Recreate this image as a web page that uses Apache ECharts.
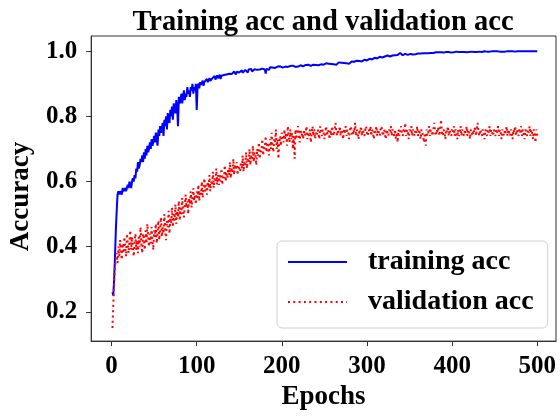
<!DOCTYPE html>
<html>
<head>
<meta charset="utf-8">
<script src="https://cdn.jsdelivr.net/npm/echarts@6/dist/echarts.min.js"></script>
<style>
html,body{margin:0;padding:0;background:#fff;}
#chart{width:560px;height:416px;}
</style>
</head>
<body>
<div id="chart"></div>
<script>
const titleText = 'Training acc and validation acc';
const xName = 'Epochs';
const yName = 'Accuracy';
const seriesNames = ['training acc', 'validation acc'];
const xTicks = [0, 100, 200, 300, 400, 500];
const yTicks = [0.2, 0.4, 0.6, 0.8, 1.0];

const trainAcc = [
0.26,0.25,0.30,0.37,0.45,0.51,0.56,0.57,0.56,0.57,0.57,0.56,0.58,0.57,0.57,0.58,0.57,0.58,0.59,0.58,0.60,0.59,0.58,0.60,0.61,
0.60,0.62,0.61,0.64,0.63,0.66,0.64,0.65,0.67,0.66,0.68,0.66,0.69,0.67,0.70,0.68,0.71,0.69,0.70,0.72,0.70,0.73,0.71,0.72,0.74,
0.72,0.75,0.73,0.71,0.76,0.74,0.77,0.75,0.76,0.78,0.74,0.79,0.77,0.80,0.76,0.81,0.79,0.78,0.82,0.80,0.83,0.79,0.84,0.82,0.81,
0.85,0.83,0.77,0.86,0.84,0.85,0.87,0.84,0.86,0.88,0.85,0.87,0.86,0.89,0.87,0.88,0.86,0.89,0.88,0.90,0.87,0.89,0.88,0.90,0.82,
0.893,0.901,0.886,0.905,0.897,0.902,0.910,0.894,0.906,0.912,0.903,0.915,0.905,0.911,0.918,0.909,0.903,0.916,0.912,0.920,0.924,0.913,0.919,0.926,0.917,
0.921,0.928,0.915,0.925,0.930,0.922,0.927,0.933,0.924,0.929,0.935,0.926,0.931,0.928,0.936,0.930,0.925,0.934,0.938,0.932,0.929,0.937,0.933,0.940,0.935,
0.931,0.938,0.942,0.934,0.939,0.936,0.943,0.937,0.941,0.935,0.944,0.939,0.942,0.946,0.938,0.943,0.940,0.945,0.941,0.947,0.943,0.939,0.946,0.944,0.948,
0.942,0.947,0.945,0.949,0.944,0.932,0.946,0.950,0.947,0.943,0.951,0.948,0.945,0.950,0.947,0.952,0.949,0.946,0.951,0.953,0.948,0.950,0.954,0.949,0.952,
0.950,0.955,0.951,0.953,0.949,0.954,0.952,0.956,0.951,0.955,0.953,0.950,0.956,0.954,0.957,0.952,0.955,0.958,0.953,0.956,0.954,0.957,0.955,0.959,0.954,
0.957,0.955,0.958,0.956,0.953,0.959,0.956,0.958,0.955,0.960,0.957,0.959,0.956,0.961,0.958,0.955,0.960,0.957,0.962,0.958,0.960,0.956,0.961,0.959,0.962,
0.958,0.963,0.960,0.957,0.962,0.959,0.964,0.961,0.958,0.963,0.960,0.965,0.962,0.959,0.964,0.961,0.966,0.963,0.960,0.965,0.962,0.967,0.964,0.961,0.966,
0.963,0.968,0.965,0.962,0.967,0.964,0.969,0.966,0.963,0.968,0.970,0.966,0.971,0.968,0.965,0.970,0.967,0.972,0.969,0.973,0.970,0.974,0.971,0.975,0.972,
0.976,0.973,0.977,0.974,0.978,0.975,0.979,0.976,0.980,0.977,0.981,0.978,0.982,0.979,0.983,0.980,0.984,0.981,0.985,0.982,0.984,0.986,0.983,0.987,0.985,
0.986,0.984,0.988,0.985,0.987,0.989,0.986,0.988,0.990,0.987,0.989,0.991,0.988,0.995,0.989,0.990,0.988,0.991,0.989,0.992,0.990,0.991,0.989,0.992,0.990,
0.992,0.991,0.993,0.990,0.992,0.993,0.991,0.994,0.992,0.993,0.991,0.994,0.993,0.995,0.992,0.994,0.993,0.995,0.994,0.993,0.995,0.994,0.996,0.994,0.995,
0.996,0.994,0.995,0.996,0.995,0.997,0.995,0.996,0.997,0.995,0.996,0.997,0.996,0.998,0.996,0.997,0.996,0.998,0.997,0.996,0.998,0.997,0.998,0.996,0.997,
0.998,0.997,0.998,0.997,0.999,0.997,0.998,0.998,0.997,0.999,0.998,0.997,0.999,0.998,0.998,0.999,0.997,0.998,0.999,0.998,0.999,0.998,0.999,0.998,0.999,
0.998,0.999,0.999,0.998,0.999,0.998,0.999,1.000,0.999,0.998,0.999,0.999,1.000,0.999,0.998,0.999,1.000,0.999,0.999,0.998,0.999,1.000,0.999,0.999,1.000,
0.999,0.999,1.000,0.999,1.000,0.999,0.999,1.000,0.999,1.000,1.000,0.999,1.000,0.999,1.000,1.000,0.999,1.000,1.000,0.999,1.000,1.000,1.000,0.999,1.000,
1.000,1.000,0.999,1.000,1.000,1.000,0.999,1.000,1.000,1.000,1.000,0.999,1.000,1.000,1.000,1.000,1.000,0.999,1.000,1.000,1.000,1.000,1.000,1.000,1.000
];

const valAcc = [
0.15,0.22,0.29,0.34,0.36,0.38,0.35,0.40,0.37,0.42,0.39,0.36,0.41,0.38,0.43,0.40,0.37,0.44,0.41,0.38,0.42,0.45,0.39,0.43,0.40,
0.37,0.41,0.44,0.39,0.42,0.38,0.43,0.40,0.46,0.41,0.38,0.44,0.42,0.39,0.45,0.41,0.47,0.43,0.40,0.44,0.41,0.46,0.42,0.39,0.45,
0.43,0.47,0.41,0.44,0.48,0.42,0.45,0.49,0.43,0.46,0.44,0.50,0.45,0.42,0.48,0.46,0.51,0.44,0.49,0.47,0.52,0.46,0.50,0.48,0.53,
0.47,0.51,0.49,0.54,0.48,0.52,0.50,0.55,0.51,0.49,0.53,0.56,0.52,0.54,0.50,0.55,0.53,0.57,0.52,0.55,0.58,0.54,0.56,0.53,0.57,
0.55,0.59,0.54,0.57,0.56,0.60,0.55,0.58,0.61,0.57,0.59,0.56,0.60,0.58,0.62,0.57,0.60,0.59,0.63,0.58,0.61,0.60,0.64,0.59,0.62,
0.59,0.62,0.60,0.64,0.59,0.62,0.61,0.65,0.60,0.63,0.61,0.64,0.62,0.66,0.61,0.64,0.63,0.67,0.62,0.65,0.64,0.66,0.62,0.65,0.64,
0.63,0.66,0.64,0.68,0.63,0.66,0.65,0.69,0.64,0.67,0.66,0.70,0.65,0.68,0.67,0.71,0.66,0.69,0.68,0.65,0.70,0.68,0.72,0.67,0.70,
0.69,0.73,0.68,0.71,0.70,0.74,0.69,0.72,0.71,0.68,0.73,0.70,0.75,0.71,0.69,0.73,0.72,0.76,0.70,0.73,0.67,0.72,0.74,0.71,0.75,
0.74,0.72,0.76,0.73,0.75,0.71,0.77,0.74,0.72,0.76,0.73,0.75,0.70,0.74,0.67,0.76,0.73,0.75,0.77,0.74,0.72,0.76,0.74,0.75,0.73,
0.76,0.74,0.75,0.77,0.73,0.75,0.74,0.76,0.72,0.75,0.77,0.74,0.76,0.73,0.75,0.74,0.76,0.75,0.73,0.77,0.75,0.74,0.76,0.75,0.73,
0.75,0.77,0.74,0.76,0.75,0.73,0.76,0.74,0.77,0.75,0.74,0.76,0.78,0.75,0.74,0.76,0.75,0.77,0.74,0.76,0.75,0.73,0.76,0.75,0.77,
0.74,0.76,0.75,0.73,0.76,0.77,0.75,0.74,0.76,0.75,0.78,0.74,0.76,0.75,0.73,0.76,0.75,0.77,0.74,0.76,0.75,0.74,0.76,0.77,0.75,
0.74,0.76,0.75,0.77,0.74,0.76,0.75,0.73,0.76,0.75,0.77,0.74,0.76,0.75,0.74,0.76,0.77,0.75,0.74,0.76,0.75,0.73,0.76,0.75,0.74,
0.76,0.75,0.77,0.74,0.76,0.75,0.74,0.76,0.73,0.75,0.72,0.76,0.74,0.75,0.77,0.75,0.74,0.76,0.75,0.78,0.74,0.76,0.75,0.73,0.76,
0.75,0.77,0.74,0.76,0.75,0.74,0.76,0.75,0.77,0.74,0.76,0.75,0.73,0.76,0.75,0.74,0.72,0.75,0.71,0.76,0.74,0.75,0.77,0.74,0.76,
0.75,0.74,0.76,0.78,0.75,0.74,0.76,0.75,0.77,0.74,0.76,0.79,0.75,0.74,0.76,0.75,0.73,0.76,0.75,0.77,0.74,0.76,0.75,0.74,0.76,
0.75,0.77,0.74,0.76,0.75,0.73,0.76,0.74,0.75,0.77,0.74,0.76,0.75,0.74,0.76,0.75,0.77,0.74,0.76,0.75,0.73,0.76,0.75,0.74,0.76,
0.75,0.77,0.74,0.76,0.78,0.75,0.74,0.76,0.75,0.74,0.76,0.75,0.73,0.76,0.75,0.74,0.76,0.75,0.77,0.74,0.76,0.75,0.74,0.76,0.75,
0.74,0.76,0.75,0.77,0.74,0.76,0.75,0.73,0.76,0.75,0.74,0.76,0.75,0.77,0.74,0.76,0.75,0.74,0.76,0.75,0.73,0.76,0.75,0.77,0.74,
0.76,0.75,0.74,0.76,0.75,0.77,0.74,0.76,0.75,0.73,0.76,0.75,0.74,0.76,0.75,0.77,0.74,0.76,0.75,0.73,0.76,0.75,0.72,0.76,0.74
];

const epochs = trainAcc.map((_, i) => i + 1);

const FONT = '"Liberation Serif", "Times New Roman", serif';
const chart = echarts.init(document.getElementById('chart'), null, {renderer: 'canvas'});

chart.setOption({
  animation: false,
  backgroundColor: '#fff',
  title: {
    text: titleText,
    left: 318, top: 3, textAlign: 'center',
    textStyle: {fontFamily: FONT, fontWeight: 'bold', fontSize: 28.5, color: '#000'}
  },
  grid: {left: 89, top: 36, right: 4, bottom: 72, containLabel: false, show: true, borderColor: '#333', borderWidth: 1},
  legend: {
    orient: 'vertical',
    left: 277, top: 241,
    padding: [7, 14, 12, 10],
    itemWidth: 59, itemHeight: 14, itemGap: 12,
    backgroundColor: '#fff',
    borderColor: '#d0d0d0', borderWidth: 1, borderRadius: 5,
    itemStyle: {opacity: 0},
    textStyle: {fontFamily: FONT, fontWeight: 'bold', fontSize: 28, lineHeight: 28, color: '#000', padding: [0, 0, 0, 16]},
    data: seriesNames
  },
  xAxis: {
    type: 'value', min: -24, max: 522,
    name: xName, nameLocation: 'middle', nameGap: 38,
    nameTextStyle: {fontFamily: FONT, fontWeight: 'bold', fontSize: 27, color: '#000'},
    axisLine: {show: true, onZero: false, lineStyle: {color: '#333', width: 1}},
    axisTick: {show: true, length: 5, lineStyle: {color: '#333'}, customValues: xTicks},
    axisLabel: {fontFamily: FONT, fontWeight: 'bold', fontSize: 25, color: '#000', margin: 13, customValues: xTicks,
      formatter: v => String(v)},
    splitLine: {show: false}
  },
  yAxis: {
    type: 'value', min: 0.11, max: 1.047,
    name: yName, nameLocation: 'middle', nameGap: 49,
    nameTextStyle: {fontFamily: FONT, fontWeight: 'bold', fontSize: 27, color: '#000', padding: [0, 16, 0, 0]},
    axisLine: {show: true, onZero: false, lineStyle: {color: '#333', width: 1}},
    axisTick: {show: true, length: 5, lineStyle: {color: '#333'}, customValues: yTicks},
    axisLabel: {fontFamily: FONT, fontWeight: 'bold', fontSize: 25, color: '#000', margin: 14, customValues: yTicks,
      formatter: v => v.toFixed(1)},
    splitLine: {show: false}
  },
  series: [
    {
      name: seriesNames[0], type: 'line', symbol: 'none', smooth: false,
      data: epochs.map((e, i) => [e, trainAcc[i]]),
      lineStyle: {color: '#0000ff', width: 2},
      itemStyle: {color: '#0000ff'}
    },
    {
      name: seriesNames[1], type: 'line', symbol: 'none', smooth: false,
      data: epochs.map((e, i) => [e, valAcc[i]]),
      lineStyle: {color: '#ff0000', width: 2, type: [2, 3.3], cap: 'butt'},
      itemStyle: {color: '#ff0000'}
    }
  ]
});
</script>
</body>
</html>
